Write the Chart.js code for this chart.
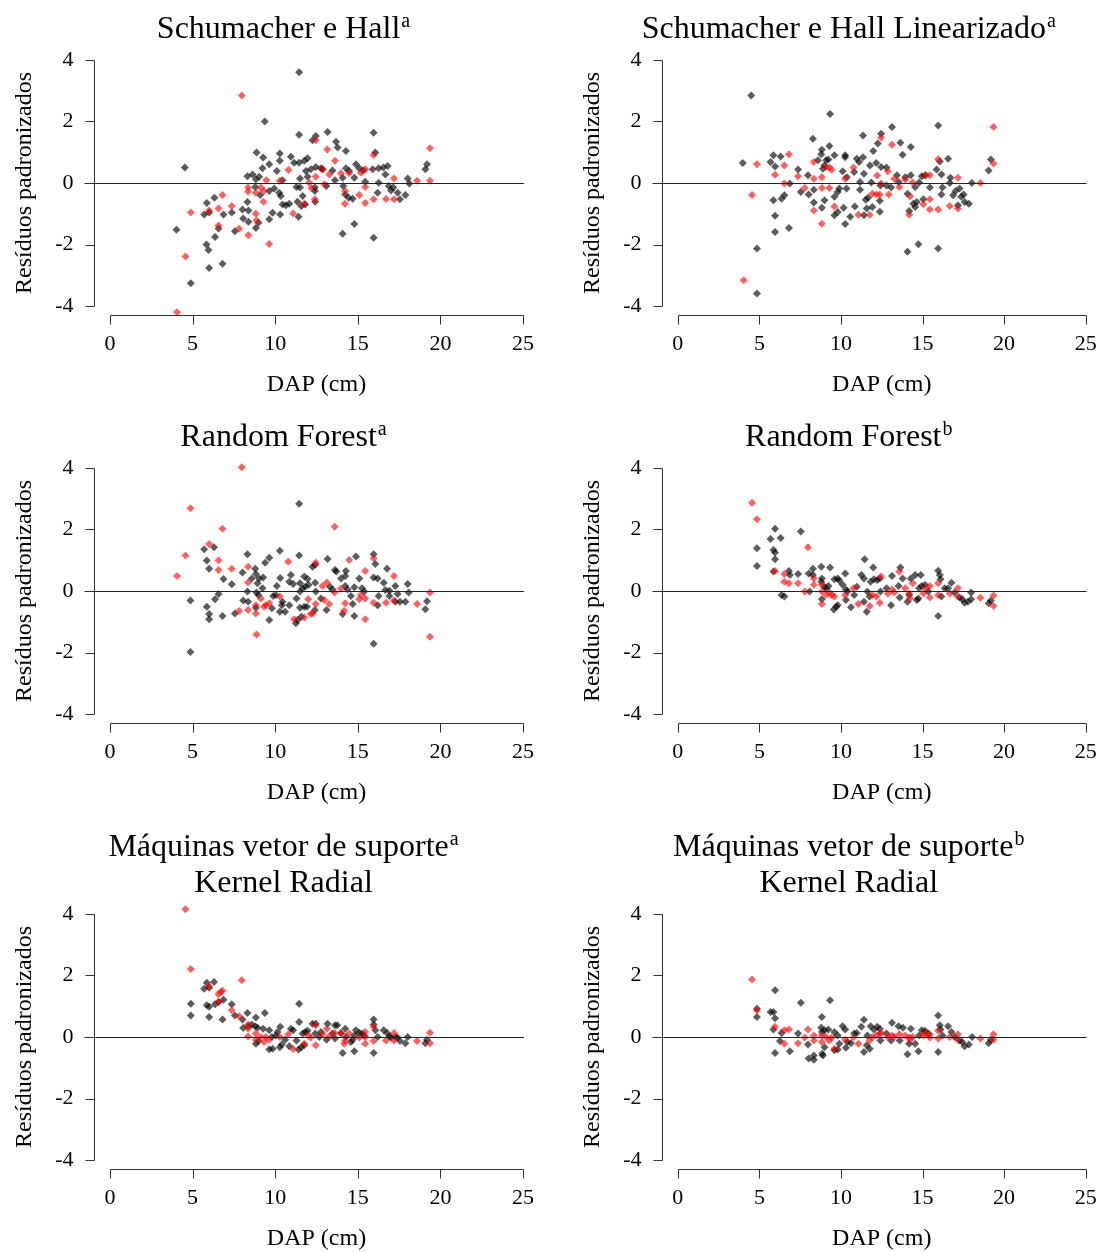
<!DOCTYPE html>
<html>
<head>
<meta charset="utf-8">
<script src="https://cdn.jsdelivr.net/npm/chart.js@4.4.1/dist/chart.umd.min.js"></script>
<style>
  html, body { margin: 0; padding: 0; background: #fff; overflow: hidden; }
  #page { position: relative; width: 1106px; height: 1252px; }
  .panel { position: absolute; }
</style>
</head>
<body>
<div id="page"></div>
<script>
// axis ticks and labels
const xTicks = [0, 5, 10, 15, 20, 25];
const yTicks = [-4, -2, 0, 2, 4];
const xLabel = 'DAP (cm)';
const yLabel = 'Resíduos padronizados';

// [DAP, residuo]; preto = gray points, vermelho = red points
const shPreto = [[11.45,3.6],[4.53,0.5],[4.02,-1.52],[4.89,-3.26],[6.0,-2.76],[6.81,-2.62],[5.84,-2.0],[5.96,-2.18],[6.36,-1.75],[6.57,-1.48],[5.7,-1.02],[6.0,-0.96],[5.86,-0.65],[6.32,-0.48],[6.87,-1.02],[7.37,-0.96],[7.56,-1.57],[8.02,-0.86],[8.38,-0.89],[8.06,-1.15],[8.38,-1.26],[8.83,-1.46],[8.99,-1.29],[8.32,-0.62],[9.09,-0.39],[9.37,2.0],[8.87,0.99],[9.27,0.83],[9.64,0.61],[9.23,0.48],[8.32,0.22],[8.63,0.28],[8.83,0.12],[9.03,0.2],[8.79,-0.13],[9.64,-0.26],[9.94,-0.18],[9.64,-1.18],[9.84,-0.97],[10.3,-1.02],[10.28,0.96],[10.28,0.72],[10.1,0.39],[10.44,0.09],[10.24,-0.32],[10.34,-0.42],[10.44,-0.7],[10.65,-0.72],[10.85,-0.67],[10.95,0.85],[11.15,0.66],[11.45,0.66],[11.76,0.72],[11.96,0.8],[11.45,1.57],[11.5,0.15],[11.96,0.2],[11.29,-0.13],[11.5,-0.15],[11.35,-0.61],[11.66,-0.42],[11.58,-0.75],[11.41,-1.1],[11.86,0.39],[12.16,0.45],[12.46,0.52],[12.26,1.39],[12.46,1.53],[13.17,1.66],[11.82,-0.7],[12.4,-0.15],[12.4,-0.26],[12.42,-0.61],[12.77,0.48],[12.87,0.45],[13.1,-0.1],[13.47,0.41],[13.62,0.09],[13.68,1.34],[13.78,1.15],[14.28,1.04],[14.28,0.48],[14.48,0.39],[14.08,0.17],[14.12,-0.1],[14.24,-0.37],[14.44,-0.48],[14.69,-0.51],[14.08,-1.65],[14.79,-1.33],[14.79,0.17],[14.89,0.61],[15.09,0.48],[15.33,0.41],[15.45,0.04],[15.9,0.45],[16.26,0.48],[16.55,0.5],[16.81,0.55],[15.96,1.63],[16.06,0.99],[15.96,-1.78],[16.26,0.01],[16.2,-0.32],[16.67,0.28],[16.87,-0.1],[17.01,-0.24],[17.15,-0.15],[17.41,-0.32],[17.55,-0.53],[17.88,-0.39],[18.02,0.15],[18.12,-0.02],[19.09,0.45],[19.19,0.61]];
const shVermelho = [[7.98,2.84],[4.06,-4.2],[4.57,-2.39],[4.89,-0.96],[6.0,-0.89],[6.57,-0.83],[6.57,-1.38],[6.81,-0.39],[7.37,-0.75],[7.82,-1.49],[8.36,-0.15],[8.36,-0.28],[8.38,-1.7],[8.83,-0.32],[8.83,-1.0],[8.87,-1.22],[9.13,-0.15],[9.33,-0.26],[9.29,-0.61],[9.47,0.09],[9.64,-1.98],[10.28,0.07],[10.81,0.42],[11.09,-0.99],[11.76,-0.67],[12.06,0.01],[12.2,-0.17],[12.4,-0.53],[12.46,0.2],[12.46,1.39],[12.87,0.45],[12.97,-0.04],[13.15,1.09],[13.27,0.28],[13.62,0.72],[13.98,0.32],[14.24,-0.26],[14.22,-0.67],[14.48,0.32],[15.09,-0.39],[15.19,0.33],[15.45,0.45],[15.45,-0.13],[15.45,-0.65],[15.96,-0.53],[15.96,0.91],[16.71,-0.52],[17.19,0.15],[17.19,-0.53],[18.59,0.07],[19.37,1.13],[19.37,0.07]];

const shlPreto = [[4.5,2.84],[3.98,0.65],[4.85,-2.13],[4.85,-3.59],[5.68,0.68],[5.86,0.9],[5.96,0.54],[6.3,0.86],[5.86,-0.56],[5.96,-1.06],[5.96,-1.59],[6.36,-0.51],[6.53,-0.4],[6.81,-1.46],[6.87,-0.02],[7.37,0.44],[7.54,-0.29],[8.02,-0.37],[7.98,0.25],[8.28,1.44],[8.34,-0.22],[8.34,-0.63],[8.83,-0.8],[8.59,0.74],[8.79,0.93],[8.83,1.08],[8.89,0.46],[8.99,0.57],[9.09,0.74],[9.23,0.76],[9.29,1.2],[9.33,2.24],[8.99,-0.56],[9.6,0.9],[9.6,-0.45],[9.8,-0.29],[9.9,-0.18],[9.6,-1.05],[9.8,-0.94],[10.1,0.38],[10.26,0.9],[10.26,0.84],[10.36,0.19],[10.34,-0.18],[10.16,-0.8],[10.26,-1.33],[10.57,-1.1],[10.81,0.36],[10.97,0.79],[11.11,0.68],[10.85,-0.76],[11.17,0.03],[11.17,-0.22],[11.41,0.3],[11.35,0.84],[11.35,1.54],[11.41,-1.05],[11.58,-0.83],[11.52,-0.54],[11.66,-0.48],[11.78,0.57],[11.86,0.02],[11.92,-0.78],[11.98,1.04],[12.16,0.65],[12.26,1.28],[12.46,1.6],[12.38,-0.58],[12.38,-0.93],[12.42,-0.08],[12.46,0.52],[12.79,0.5],[12.79,-0.08],[13.13,1.82],[13.07,-0.15],[13.43,0.25],[13.53,0.03],[13.64,1.31],[13.78,0.92],[13.94,0.19],[14.28,0.25],[14.08,-0.35],[14.18,-0.91],[14.08,-2.23],[14.28,1.17],[14.44,-0.67],[14.55,-0.78],[14.65,-0.62],[14.55,-0.13],[14.75,-1.99],[14.79,0.02],[14.95,0.22],[15.15,0.25],[15.05,-0.53],[15.45,-0.15],[15.86,0.44],[15.96,1.87],[15.96,-2.13],[16.06,0.7],[16.16,0.28],[16.22,-0.15],[16.16,-0.37],[16.57,0.79],[16.71,0.17],[16.67,0.0],[16.87,-0.4],[17.03,-0.26],[17.17,-0.72],[17.27,-0.18],[17.37,-0.45],[17.52,-0.37],[17.58,-0.62],[17.84,-0.67],[18.02,0.0],[19.05,0.41],[19.19,0.76]];
const shlVermelho = [[4.04,-3.16],[4.55,-0.39],[4.85,0.61],[5.96,0.27],[6.53,0.57],[6.53,-0.02],[6.81,0.93],[7.37,0.22],[7.78,-0.16],[8.34,0.68],[8.34,0.14],[8.34,-0.89],[8.83,0.19],[8.83,-0.16],[8.83,-1.32],[9.09,0.52],[9.29,0.5],[9.43,0.43],[9.29,-0.16],[9.6,-0.76],[10.26,0.14],[10.77,0.5],[11.07,-1.03],[11.76,-1.03],[11.92,-0.35],[12.18,-0.37],[12.38,-0.37],[12.22,0.24],[12.46,1.47],[12.46,-0.02],[12.87,0.38],[12.93,-0.37],[13.13,1.24],[13.27,0.14],[13.58,-0.13],[13.94,0.11],[14.18,-1.03],[14.24,-0.43],[14.4,0.02],[15.05,-0.69],[15.21,0.25],[15.45,0.25],[15.45,-0.53],[15.45,-0.86],[15.96,-0.86],[15.96,0.77],[16.67,-0.75],[17.17,0.17],[17.17,-0.83],[18.55,0.0],[19.35,1.82],[19.35,0.63]];

const rfaPreto = [[4.87,-0.31],[4.87,-1.98],[5.7,1.36],[6.3,1.42],[5.86,0.99],[6.0,0.72],[5.86,-0.51],[6.0,-0.75],[6.0,-0.92],[6.36,-0.27],[6.57,-0.1],[6.87,0.39],[6.81,-0.81],[7.37,0.22],[7.56,-0.73],[8.02,0.6],[8.06,-0.31],[8.36,-0.35],[8.32,1.19],[8.32,-0.02],[8.58,0.41],[8.79,0.72],[8.83,0.55],[8.93,0.25],[8.87,-0.05],[8.99,-0.13],[9.03,0.41],[9.27,0.44],[8.83,-0.54],[9.23,0.09],[9.39,0.92],[9.64,1.08],[9.64,-0.94],[9.8,-0.56],[9.88,-0.16],[10.04,-0.13],[10.1,0.16],[10.28,1.31],[10.3,0.42],[10.28,-0.67],[10.4,-0.46],[10.44,-0.35],[10.6,-0.67],[10.85,-0.46],[10.95,0.52],[10.85,0.3],[11.09,0.23],[11.25,-1.05],[11.35,-0.94],[11.45,1.15],[11.45,2.83],[11.5,0.25],[11.29,-0.24],[11.5,-0.02],[11.66,0.09],[11.5,-0.54],[11.76,-0.51],[11.92,-0.51],[11.58,-0.84],[11.76,0.47],[11.96,0.39],[11.82,0.14],[12.02,0.2],[12.26,0.79],[12.42,0.85],[12.42,0.27],[12.46,-0.02],[12.4,-0.62],[12.77,-0.24],[13.11,-0.62],[13.17,1.04],[13.31,0.14],[13.47,0.05],[13.62,0.68],[13.7,0.63],[13.98,0.41],[14.24,0.49],[14.28,0.65],[14.08,-0.75],[14.24,0.16],[14.38,0.05],[14.58,-0.16],[14.69,-0.42],[14.79,0.12],[14.79,-0.81],[14.89,1.12],[15.09,0.41],[15.25,0.09],[15.39,-0.02],[15.96,1.19],[15.96,0.44],[16.06,0.88],[15.96,-1.71],[16.2,0.41],[16.26,-0.16],[16.2,-0.46],[16.57,0.27],[16.77,0.72],[16.67,0.03],[16.91,0.01],[16.91,-0.16],[17.27,0.16],[17.27,-0.35],[17.41,-0.1],[17.55,-0.35],[17.88,-0.35],[18.02,0.23],[18.08,-0.05],[19.09,-0.59],[19.19,-0.33]];
const rfaVermelho = [[7.98,4.02],[4.87,2.69],[6.81,2.02],[13.6,2.09],[4.06,0.49],[4.57,1.15],[6.0,1.53],[6.57,0.99],[6.57,0.68],[7.37,0.72],[8.36,0.79],[8.36,0.28],[7.82,-0.65],[8.36,-0.62],[8.83,-0.73],[8.83,-0.46],[8.87,-1.41],[9.13,-0.24],[9.33,-0.51],[9.43,-0.46],[9.64,-0.4],[10.28,-0.18],[10.79,0.95],[11.15,-0.92],[11.76,-0.86],[12.0,-0.27],[12.16,-0.75],[12.26,-0.73],[12.46,0.92],[12.46,-0.42],[12.87,0.16],[12.97,-0.29],[13.13,0.28],[13.27,-0.42],[13.6,-0.05],[13.98,0.07],[14.24,-0.4],[14.18,-0.64],[14.48,1.01],[15.09,-0.27],[15.19,-0.13],[15.45,-0.24],[15.45,0.65],[15.45,-0.92],[15.96,1.06],[15.96,-0.38],[16.71,-0.38],[17.19,0.49],[17.19,-0.31],[18.59,-0.42],[19.37,-0.05],[19.37,-1.49]];

const rfbPreto = [[4.85,1.39],[4.85,0.81],[5.68,1.69],[5.96,2.02],[6.3,1.72],[5.86,1.33],[5.96,1.25],[5.96,1.03],[5.86,0.63],[6.36,-0.13],[6.53,-0.18],[6.81,0.65],[6.87,0.52],[7.37,0.55],[7.54,1.93],[8.02,0.57],[8.28,0.52],[8.28,0.72],[8.08,-0.02],[8.79,0.79],[8.83,0.41],[8.79,0.3],[8.99,0.14],[9.09,0.09],[9.23,0.16],[8.83,-0.27],[9.33,0.76],[9.6,0.38],[9.8,0.41],[9.9,0.34],[9.56,-0.6],[9.7,-0.51],[9.8,-0.46],[10.1,0.2],[10.26,0.57],[10.3,0.05],[10.4,-0.02],[10.3,-0.29],[10.61,-0.53],[10.81,-0.13],[10.97,0.14],[11.25,0.52],[11.41,0.41],[11.45,1.03],[11.41,-0.35],[11.58,-0.67],[11.62,-0.02],[11.76,-0.18],[11.82,0.3],[12.02,0.38],[11.98,0.76],[12.22,0.36],[12.38,0.41],[12.42,-0.02],[12.79,0.09],[13.07,-0.46],[13.13,0.49],[13.53,0.16],[13.64,0.76],[13.78,0.41],[13.6,-0.21],[14.08,-0.35],[14.18,-0.13],[14.28,0.41],[14.55,0.52],[14.89,0.52],[14.65,-0.29],[14.75,-0.24],[14.79,0.09],[14.95,0.16],[15.15,0.2],[15.35,-0.02],[15.96,0.66],[16.06,0.52],[16.1,0.38],[15.96,-0.81],[16.16,-0.18],[16.36,0.09],[16.57,0.09],[16.77,0.27],[16.97,-0.05],[17.27,-0.21],[17.43,-0.27],[17.58,-0.38],[17.78,-0.35],[17.98,-0.27],[17.98,-0.05],[19.05,-0.4],[19.19,-0.31]];
const rfbVermelho = [[4.55,2.87],[4.85,2.33],[7.98,1.42],[5.96,0.65],[6.53,0.55],[6.53,0.3],[6.81,0.25],[7.37,0.25],[7.78,-0.02],[8.34,0.41],[8.34,0.2],[8.83,0.2],[8.83,-0.02],[8.83,-0.42],[9.09,-0.13],[9.29,-0.05],[9.43,-0.13],[9.6,-0.18],[10.26,-0.13],[10.77,0.09],[11.07,-0.42],[11.76,-0.49],[11.92,-0.13],[12.18,-0.18],[12.38,-0.38],[12.46,0.47],[12.87,-0.08],[13.13,0.05],[13.27,-0.05],[13.58,0.63],[13.94,0.09],[14.18,-0.08],[14.24,-0.24],[14.4,0.25],[15.05,-0.08],[15.21,0.09],[15.45,0.16],[15.45,-0.21],[15.96,0.25],[15.96,-0.13],[16.67,-0.08],[17.17,0.09],[17.17,-0.18],[18.55,-0.22],[19.35,-0.15],[19.35,-0.49]];

const svmaPreto = [[4.89,1.08],[4.89,0.7],[5.7,1.57],[5.86,1.76],[6.3,1.79],[6.0,1.6],[5.86,1.03],[6.0,0.98],[6.0,0.65],[6.36,1.06],[6.57,1.14],[6.87,1.21],[6.81,0.57],[7.37,1.06],[7.56,0.7],[8.02,0.57],[8.32,0.78],[8.06,0.29],[8.36,0.35],[8.58,0.41],[8.79,0.35],[8.93,0.3],[9.27,0.27],[8.83,0.63],[9.37,0.78],[9.64,0.22],[8.83,-0.22],[8.99,-0.13],[9.64,-0.4],[9.84,-0.38],[9.8,0.0],[10.04,0.05],[10.14,0.16],[10.3,0.33],[10.28,-0.33],[10.4,-0.24],[10.6,-0.09],[10.85,-0.3],[10.95,0.27],[11.09,0.22],[11.29,-0.11],[11.45,1.08],[11.45,0.49],[11.41,-0.41],[11.58,-0.33],[11.76,-0.27],[11.66,0.11],[11.82,0.16],[11.96,0.2],[12.26,0.43],[12.46,0.43],[12.42,0.11],[12.67,0.0],[12.77,0.16],[13.11,-0.09],[13.17,0.43],[13.47,0.11],[13.62,0.38],[13.76,0.38],[13.62,-0.05],[13.98,0.13],[14.24,0.27],[14.28,0.0],[14.08,-0.52],[14.58,-0.16],[14.69,-0.09],[14.79,0.05],[14.79,-0.46],[14.89,0.22],[15.09,0.13],[15.25,0.11],[15.39,0.05],[15.96,0.57],[15.96,0.41],[16.06,0.22],[15.96,-0.52],[16.2,0.0],[16.57,0.22],[16.77,0.13],[16.91,0.02],[17.01,-0.02],[17.27,0.0],[17.41,-0.02],[17.55,-0.13],[17.88,-0.2],[18.02,0.0],[19.09,-0.2],[19.19,-0.09]];
const svmaVermelho = [[4.57,4.15],[4.89,2.21],[7.98,1.84],[6.0,1.65],[6.57,1.39],[6.71,1.46],[6.81,1.5],[6.57,1.14],[7.37,0.87],[7.82,0.67],[8.36,0.41],[8.36,0.27],[8.36,0.02],[8.83,0.11],[8.83,-0.09],[9.13,0.0],[9.33,-0.16],[9.43,0.0],[9.64,-0.09],[10.28,0.0],[10.79,0.09],[11.09,-0.39],[11.76,-0.22],[12.0,0.05],[12.16,-0.02],[12.46,0.38],[12.46,-0.27],[12.87,0.09],[13.13,0.27],[13.27,0.02],[13.6,0.13],[13.98,0.11],[14.24,-0.11],[14.18,-0.22],[14.48,0.11],[15.09,-0.02],[15.45,0.0],[15.45,0.16],[15.45,-0.22],[15.96,0.33],[15.96,-0.13],[16.71,-0.11],[17.19,0.13],[17.19,-0.11],[18.59,-0.13],[19.37,0.14],[19.37,-0.2]];

const svmbPreto = [[4.85,0.92],[4.85,0.65],[5.96,1.52],[5.68,0.81],[5.86,0.81],[5.96,0.61],[5.86,0.24],[5.96,-0.52],[6.26,-0.13],[6.36,0.13],[6.87,-0.46],[7.37,0.11],[7.54,1.11],[7.98,-0.24],[8.02,-0.7],[8.34,-0.6],[8.34,-0.74],[8.83,0.65],[8.79,0.3],[8.83,0.16],[8.99,0.22],[9.23,0.24],[8.85,-0.54],[8.89,-0.6],[8.99,-0.33],[9.33,1.19],[9.6,0.16],[9.8,0.05],[9.6,-0.43],[9.8,-0.41],[9.9,-0.22],[10.1,0.35],[10.26,0.24],[10.3,-0.35],[10.4,-0.16],[10.61,-0.2],[10.81,0.11],[10.97,0.13],[11.25,0.33],[11.41,0.56],[11.41,-0.49],[11.58,-0.27],[11.76,-0.38],[11.62,0.05],[11.82,0.35],[12.02,0.24],[12.22,0.33],[12.38,0.27],[12.42,-0.11],[12.79,0.11],[13.07,-0.11],[13.13,0.46],[13.53,0.35],[13.8,0.3],[13.6,-0.11],[14.08,-0.56],[14.18,-0.22],[14.28,0.27],[14.55,-0.22],[14.75,-0.46],[14.79,0.05],[14.95,0.22],[15.15,0.2],[15.35,0.11],[15.96,0.7],[16.06,0.38],[16.1,0.24],[15.96,-0.49],[16.22,0.05],[16.57,0.35],[16.77,0.16],[16.97,0.0],[17.27,-0.11],[17.43,-0.16],[17.58,-0.3],[17.84,-0.24],[18.04,0.0],[19.05,-0.2],[19.19,-0.09]];
const svmbVermelho = [[4.55,1.87],[4.85,0.87],[5.96,0.33],[6.53,0.22],[6.81,0.24],[6.53,-0.22],[7.37,-0.2],[7.78,-0.02],[7.98,0.24],[8.34,0.05],[8.34,-0.11],[8.83,0.05],[8.83,-0.16],[9.09,0.0],[9.29,-0.11],[9.43,-0.02],[9.6,-0.38],[10.26,-0.09],[10.77,-0.02],[11.07,-0.22],[11.76,-0.11],[11.92,0.0],[12.18,0.05],[12.38,0.11],[12.46,0.13],[12.87,0.0],[13.13,0.05],[13.27,0.0],[13.58,0.09],[13.94,0.05],[14.18,-0.02],[14.24,-0.09],[14.4,0.0],[15.05,0.05],[15.21,0.11],[15.45,0.08],[15.45,-0.02],[15.96,0.2],[15.96,-0.05],[16.67,0.0],[17.17,0.09],[17.17,-0.09],[18.55,-0.05],[19.35,0.09],[19.35,-0.09]];

const serif = '"Liberation Serif", "Times New Roman", serif';

// panel layout: column, page y of canvas, space above plot area
const panels = [
  { title: [['Schumacher e Hall', 'a']], preto: shPreto, vermelho: shVermelho, col: 0, top: 0, padTop: 50 },
  { title: [['Schumacher e Hall Linearizado', 'a']], preto: shlPreto, vermelho: shlVermelho, col: 1, top: 0, padTop: 50 },
  { title: [['Random Forest', 'a']], preto: rfaPreto, vermelho: rfaVermelho, col: 0, top: 408, padTop: 50 },
  { title: [['Random Forest', 'b']], preto: rfbPreto, vermelho: rfbVermelho, col: 1, top: 408, padTop: 50 },
  { title: [['Máquinas vetor de suporte', 'a'], ['Kernel Radial', '']], preto: svmaPreto, vermelho: svmaVermelho, col: 0, top: 808, padTop: 96 },
  { title: [['Máquinas vetor de suporte', 'b'], ['Kernel Radial', '']], preto: svmbPreto, vermelho: svmbVermelho, col: 1, top: 808, padTop: 96 }
];

// title with superscript, centred on the figure column
const rTitle = {
  id: 'rTitle',
  afterDraw(chart, args, opts) {
    const { ctx, chartArea: a } = chart;
    const cx = (a.left + a.right) / 2 - 33;
    const lines = opts.lines;
    ctx.save();
    ctx.fillStyle = '#000';
    ctx.textAlign = 'left';
    ctx.textBaseline = 'alphabetic';
    lines.forEach((ln, i) => {
      const base = a.top - 12 - (lines.length - 1 - i) * 36;
      ctx.font = '32px ' + serif;
      const w1 = ctx.measureText(ln[0]).width;
      ctx.font = '20px ' + serif;
      const w2 = ln[1] ? ctx.measureText(ln[1]).width + 1 : 0;
      const x0 = cx - (w1 + w2) / 2;
      ctx.font = '32px ' + serif;
      ctx.fillText(ln[0], x0, base);
      if (ln[1]) {
        ctx.font = '20px ' + serif;
        ctx.fillText(ln[1], x0 + w1 + 1, base - 11);
      }
    });
    ctx.restore();
  }
};

// R style detached axes and the zero line
const rAxes = {
  id: 'rAxes',
  afterDatasetsDraw(chart) {
    const { ctx, chartArea: a, scales: { x, y } } = chart;
    const py = Math.round(y.getPixelForValue(0)) + 0.5;
    ctx.save();
    ctx.strokeStyle = '#222';
    ctx.lineWidth = 1.2;
    ctx.beginPath();
    ctx.moveTo(a.left - 9, py);
    ctx.lineTo(x.getPixelForValue(xTicks[xTicks.length - 1]) + 1, py);
    ctx.stroke();
    ctx.restore();
  },
  afterDraw(chart) {
    const { ctx, chartArea: a, scales: { x, y } } = chart;
    ctx.save();
    ctx.strokeStyle = '#333';
    ctx.lineWidth = 1;
    ctx.beginPath();
    const yl = Math.round(a.left) + 0.5;
    ctx.moveTo(yl, Math.round(y.getPixelForValue(yTicks[0])) + 0.5);
    ctx.lineTo(yl, Math.round(y.getPixelForValue(yTicks[yTicks.length - 1])) + 0.5);
    yTicks.forEach(v => {
      const p = Math.round(y.getPixelForValue(v)) + 0.5;
      ctx.moveTo(yl, p);
      ctx.lineTo(yl - 9, p);
    });
    const xb = Math.round(a.bottom) - 0.5;
    ctx.moveTo(Math.round(x.getPixelForValue(xTicks[0])) + 0.5, xb);
    ctx.lineTo(Math.round(x.getPixelForValue(xTicks[xTicks.length - 1])) + 0.5, xb);
    xTicks.forEach(v => {
      const p = Math.round(x.getPixelForValue(v)) + 0.5;
      ctx.moveTo(p, xb);
      ctx.lineTo(p, xb + 9);
    });
    ctx.stroke();
    ctx.restore();
  }
};

const toPts = arr => arr.map(d => ({ x: d[0], y: d[1] }));

panels.forEach(p => {
  const w = p.col ? 538 : 555;
  const h = p.padTop + 266 + 92;
  const box = document.createElement('div');
  box.className = 'panel';
  box.style.left = (p.col ? 568 : 0) + 'px';
  box.style.top = p.top + 'px';
  const canvas = document.createElement('canvas');
  canvas.width = w;
  canvas.height = h;
  box.appendChild(canvas);
  document.getElementById('page').appendChild(box);

  new Chart(canvas, {
    type: 'scatter',
    data: {
      datasets: [
        { data: toPts(p.vermelho), backgroundColor: 'rgba(255,0,0,0.62)' },
        { data: toPts(p.preto), backgroundColor: 'rgba(0,0,0,0.64)' }
      ]
    },
    options: {
      responsive: false,
      animation: false,
      elements: { point: { pointStyle: 'rectRot', radius: 4, borderWidth: 0, hoverRadius: 4 } },
      layout: { padding: { top: p.padTop, right: p.col ? 0 : 15.5, left: 0, bottom: 0 } },
      plugins: {
        legend: { display: false },
        tooltip: { enabled: false },
        rTitle: { lines: p.title }
      },
      scales: {
        x: {
          type: 'linear', min: -1, max: 26,
          afterBuildTicks: s => { s.ticks = xTicks.map(v => ({ value: v })); },
          afterFit: s => { s.height = 92; },
          grid: { display: false, drawTicks: true, tickLength: 9 },
          border: { display: false },
          ticks: { color: '#000', font: { family: serif, size: 22 }, padding: 6, maxRotation: 0, autoSkip: false, callback: v => String(v) },
          title: { display: true, text: xLabel, color: '#000', font: { family: serif, size: 24 }, padding: { top: 0, bottom: 9 } }
        },
        y: {
          type: 'linear', min: -4.32, max: 4.32,
          afterBuildTicks: s => { s.ticks = yTicks.map(v => ({ value: v })); },
          afterFit: s => { s.width = 93.5; },
          grid: { display: false, drawTicks: true, tickLength: 9 },
          border: { display: false },
          ticks: { color: '#000', font: { family: serif, size: 22 }, padding: 11, autoSkip: false, callback: v => String(v) },
          title: { display: true, text: yLabel, color: '#000', font: { family: serif, size: 24 }, padding: { top: 10, bottom: 0 } }
        }
      }
    },
    plugins: [rTitle, rAxes]
  });
});
</script>
</body>
</html>
